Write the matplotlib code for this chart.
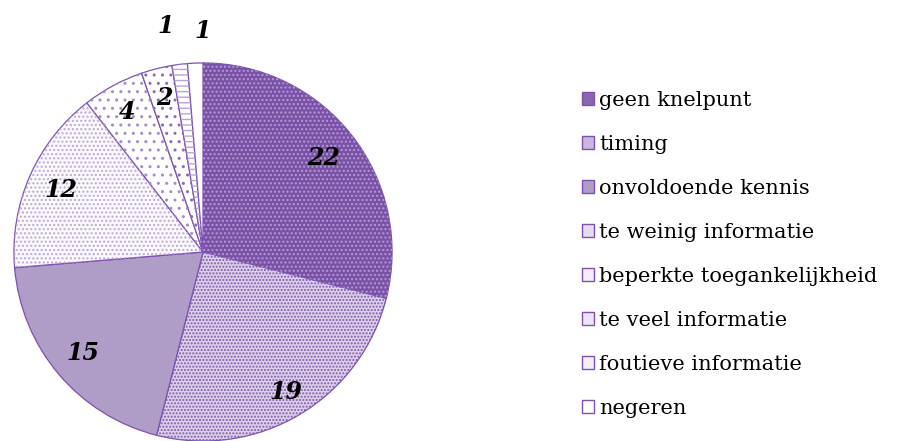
import matplotlib
matplotlib.use("Agg")
import matplotlib.pyplot as plt
from matplotlib.patches import Wedge, Patch
import numpy as np

categories = ["geen knelpunt", "timing", "onvoldoende kennis", "te weinig informatie",
              "beperkte toegankelijkheid", "te veel informatie", "foutieve informatie", "negeren"]
values = [22, 19, 15, 12, 4, 2, 1, 1]

face_colors = ["#7A51A6", "#DDD1EA", "#AF9CC7", "#FBF9FD", "#FFFFFF", "#FFFFFF", "#FFFFFF", "#FFFFFF"]
hatch_colors = ["#B39BD0", "#7F58AB", None, "#BCA8D4", "#A68DC6", "#8D6AB6", "#B7A5DA", None]
hatches = ["....", ".....", None, "....", "..", "..", "---", None]
legend_face = ["#8A66B0", "#C9B7DD", "#AF9CC7", "#E6DCF0", "#F2EDF7", "#EDE6F4", "#F4F0FA", "#FFFFFF"]
label_dist = [0.81, 0.86, 0.83, 0.82, 0.84, 0.84, 1.21, 1.17]
label_shift = [0, 0, 0, 0, 0, 0, 2.4, -2.4]
edge = "#7E50B6"

plt.rcParams['hatch.linewidth'] = 1.0
fig = plt.figure(figsize=(9.07, 4.41), dpi=100)
W, H = 907, 441
cx, cy, r = 203, 252, 190
ax = fig.add_axes([(cx - r) / W, (H - cy - r) / H, 2 * r / W, 2 * r / H])
ax.set_axis_off()

wedges, _ = ax.pie(values, colors=face_colors, startangle=90, counterclock=False, radius=1,
                   wedgeprops=dict(edgecolor=edge, linewidth=0.9), frame=False)
ax.set_xlim(-1.005, 1.005)
ax.set_ylim(-1.005, 1.005)

for w, v, hc, hh, ld, sh in zip(wedges, values, hatch_colors, hatches, label_dist, label_shift):
    if hh:
        ov = Wedge(w.center, w.r, w.theta1, w.theta2, facecolor="none", edgecolor=hc,
                   linewidth=0, hatch=hh)
        ax.add_patch(ov)
    ang = np.deg2rad((w.theta1 + w.theta2) / 2 + sh)
    ax.text(ld * np.cos(ang), ld * np.sin(ang), str(v), ha="center", va="center",
            fontsize=17, fontweight="bold", fontstyle="italic", family="DejaVu Serif",
            color="black", clip_on=False)

legend_handles = [Patch(facecolor=fc, edgecolor=edge, linewidth=1.0) for fc in legend_face]

fig.legend(legend_handles, categories, loc="center left", bbox_to_anchor=(563 / W, 1 - 254 / H),
           frameon=False, prop=dict(family="DejaVu Serif", size=15), handlelength=0.58,
           handleheight=0.58, handletextpad=0.25, labelspacing=1.2)

fig.savefig("out.png", dpi=100)
